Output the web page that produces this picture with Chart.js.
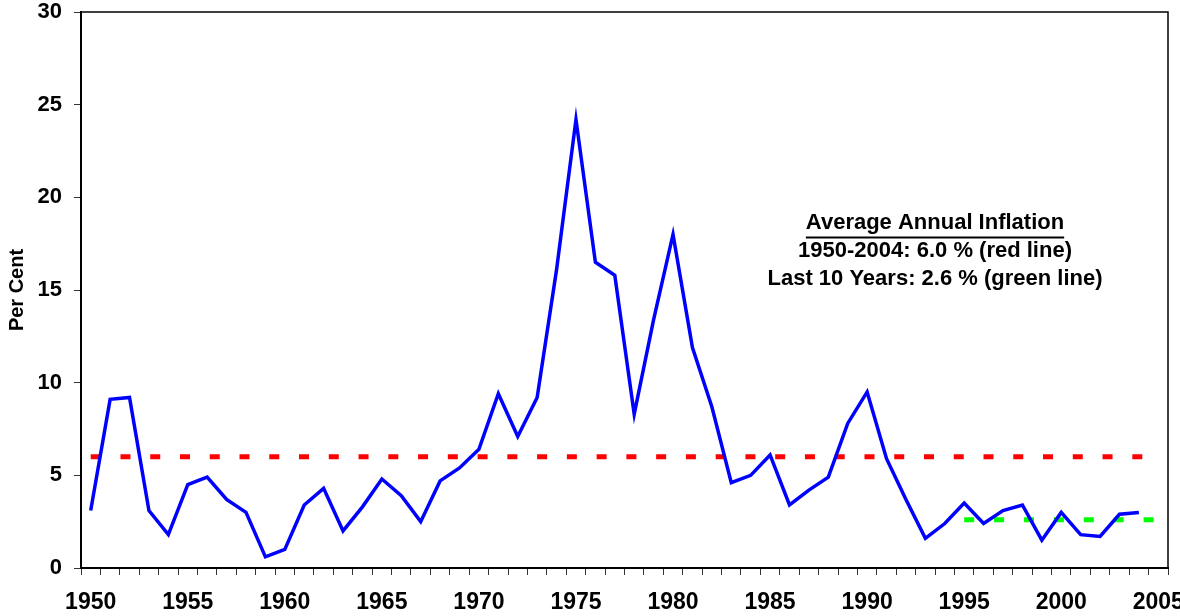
<!DOCTYPE html>
<html><head><meta charset="utf-8">
<script src="https://cdn.jsdelivr.net/npm/chart.js@4/dist/chart.umd.min.js"></script>
<style>html,body{margin:0;padding:0;background:#fff}#wrap{width:1180px;height:616px;position:relative}</style>
</head><body><div id="wrap"><canvas id="c" width="1180" height="616"></canvas></div>
<script>
const years = ['1950','1951','1952','1953','1954','1955','1956','1957','1958','1959',
  '1960','1961','1962','1963','1964','1965','1966','1967','1968','1969',
  '1970','1971','1972','1973','1974','1975','1976','1977','1978','1979',
  '1980','1981','1982','1983','1984','1985','1986','1987','1988','1989',
  '1990','1991','1992','1993','1994','1995','1996','1997','1998','1999',
  '2000','2001','2002','2003','2004','2005'];
const inflation = [3.1, 9.1, 9.2, 3.1, 1.8, 4.5, 4.9, 3.7, 3.0, 0.6,
  1.0, 3.4, 4.3, 2.0, 3.3, 4.8, 3.9, 2.5, 4.7, 5.4,
  6.4, 9.4, 7.1, 9.2, 16.1, 24.2, 16.5, 15.8, 8.3, 13.4,
  18.0, 11.9, 8.7, 4.6, 5.0, 6.1, 3.4, 4.2, 4.9, 7.8,
  9.5, 5.9, 3.7, 1.6, 2.4, 3.5, 2.4, 3.1, 3.4, 1.5,
  3.0, 1.8, 1.7, 2.9, 3.0, null];
const avgAllYears = 6.0;
const avgLast10 = 2.6;
const last10Start = '1995';
const xTickLabels = ['1950','1955','1960','1965','1970','1975','1980','1985','1990','1995','2000','2005'];
const yTicks = [0, 5, 10, 15, 20, 25, 30];
const noteLines = ['Average Annual Inflation', '1950-2004: 6.0 % (red line)', 'Last 10 Years: 2.6 % (green line)'];

const redSeries = years.map(() => avgAllYears);
const greenSeries = years.map(y => (y >= last10Start ? avgLast10 : null));

const FONT = '"Liberation Sans", Arial, sans-serif';

const framePlugin = {
  id: 'frame',
  afterDraw(chart) {
    const { ctx, chartArea: a } = chart;
    ctx.save();
    ctx.strokeStyle = '#000';
    ctx.lineWidth = 1.5;
    ctx.beginPath();
    ctx.moveTo(a.left, a.top);
    ctx.lineTo(a.right, a.top);
    ctx.lineTo(a.right, a.bottom);
    ctx.stroke();
    // annotation
    ctx.fillStyle = '#000';
    ctx.font = 'bold 22px ' + FONT;
    ctx.textAlign = 'center';
    ctx.textBaseline = 'middle';
    const cx = 935;
    const ys = [223, 251, 279];
    noteLines.forEach((t, i) => ctx.fillText(t, cx, ys[i]));
    const w = ctx.measureText(noteLines[0]).width;
    ctx.lineWidth = 2;
    ctx.beginPath();
    ctx.moveTo(cx - w / 2, 237.5);
    ctx.lineTo(cx + w / 2, 237.5);
    ctx.stroke();
    ctx.restore();
  }
};

function noPad(s) { s.paddingLeft = 0; s.paddingRight = 0; s.paddingTop = 0; s.paddingBottom = 0; }

new Chart(document.getElementById('c'), {
  type: 'line',
  data: {
    labels: years,
    datasets: [
      { label: 'Inflation', data: inflation, borderColor: '#0000FF', borderWidth: 3.5,
        pointRadius: 0, tension: 0, fill: false, borderJoinStyle: 'miter', order: 1 },
      { label: 'Average 1950-2004', data: redSeries, borderColor: '#FF0000', borderWidth: 5,
        borderDash: [10, 19.76], borderCapStyle: 'butt', pointRadius: 0, fill: false, order: 2 },
      { label: 'Average last 10 years', data: greenSeries, borderColor: '#00FF00', borderWidth: 5,
        borderDash: [10, 19.9], borderCapStyle: 'butt', pointRadius: 0, fill: false, spanGaps: false, order: 3 }
    ]
  },
  options: {
    responsive: false,
    animation: false,
    events: [],
    layout: { padding: { top: 12, right: 12, left: 0, bottom: 0 } },
    plugins: { legend: { display: false }, tooltip: { enabled: false } },
    scales: {
      x: {
        type: 'category',
        offset: true,
        grid: { offset: true, drawOnChartArea: false, drawTicks: true, tickLength: 7, color: '#333', lineWidth: 1 },
        border: { display: true, color: '#000', width: 2 },
        ticks: {
          autoSkip: false, maxRotation: 0, minRotation: 0, padding: 16,
          color: '#000', font: { family: FONT, size: 23, weight: 'bold', lineHeight: 1 },
          callback: function (v) { const l = this.getLabelForValue(v); return xTickLabels.includes(l) ? l : ''; }
        },
        afterFit(s) { s.height = 48; noPad(s); }
      },
      y: {
        min: 0, max: 30,
        afterBuildTicks(s) { s.ticks = yTicks.map(v => ({ value: v })); },
        grid: { drawOnChartArea: false, drawTicks: true, tickLength: 7, color: '#333', lineWidth: 1 },
        border: { display: true, color: '#000', width: 2 },
        ticks: { padding: 12, color: '#000', font: { family: FONT, size: 22, weight: 'bold', lineHeight: 1 } },
        title: { display: true, text: 'Per Cent', color: '#000', padding: { top: 5, bottom: 0 },
          font: { family: FONT, size: 20, weight: 'bold', lineHeight: 1.2 } },
        afterFit(s) { s.width = 81; noPad(s); }
      }
    }
  },
  plugins: [framePlugin]
});
</script></body></html>
